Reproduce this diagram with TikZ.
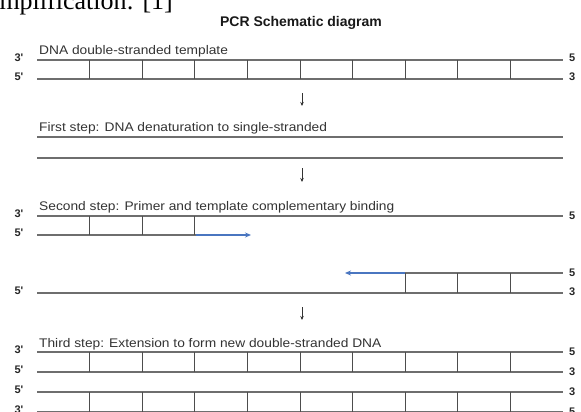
\documentclass[tikz,border=0pt]{standalone}
\usepackage{fontspec}
\setmainfont{Liberation Serif}
\newfontfamily\lblfont[FakeStretch=1.1]{Liberation Sans}
\newfontfamily\hdfont{Liberation Sans}
\usetikzlibrary{arrows.meta}
\definecolor{strand}{HTML}{6E6E6E}
\definecolor{ink}{HTML}{333333}
\definecolor{primer}{HTML}{4A76C0}

\begin{document}
\begin{tikzpicture}[x=1pt,y=-1pt,
  strandline/.style={draw=strand, line width=1.2pt},
  tick/.style={draw=strand!70!black, line width=1pt},
  steptext/.style={anchor=base west, inner sep=0, text=ink, font=\lblfont\fontsize{12.5}{14}\selectfont},
  endlbl/.style={inner sep=0, text=black!85, font=\hdfont\bfseries\fontsize{11}{12}\selectfont},
  flow/.style={draw=ink, line width=0.8pt, -{Stealth[length=4pt,width=3.5pt]}},
  ext/.style={draw=primer, line width=1.2pt, -{Stealth[length=6pt,width=5pt]}}]
\useasboundingbox (0,0) rectangle (581,412);
\clip (0,0) rectangle (581,412);

% caption line above the figure and title
\node[anchor=base east, inner sep=0, font=\fontsize{26}{28}\selectfont] (cap) at (173,9.5) {mplification: [1]};
\node[anchor=base, inner sep=0, text=black!90, font=\hdfont\bfseries\fontsize{14}{16}\selectfont] (title) at (301,27) {PCR Schematic diagram};

% ---------- template ----------
\node[steptext] (t0) at (39,55) {DNA double-stranded template};
\draw[strandline] (37,60) -- (563,60);
\draw[strandline] (37,79) -- (563,79);
\foreach \k in {1,...,9} \draw[tick] ({37+52.6*\k},60) -- ({37+52.6*\k},79);
\node[endlbl] (l0a) at (19,58) {3'};
\node[endlbl] (l0b) at (19,77) {5'};
\node[endlbl, anchor=west] (r0a) at (569,58) {5};
\node[endlbl, anchor=west] (r0b) at (569,77) {3};

\coordinate (f1a) at (302,93);
\coordinate (f1b) at (302,106);
\draw[flow] (f1a) -- (f1b);

% ---------- step 1: denaturation ----------
\node[steptext] (t1) at (39,131) {First step: DNA denaturation to single-stranded};
\draw[strandline] (37,137) -- (563,137);
\draw[strandline] (37,158) -- (563,158);

\coordinate (f2a) at (302,168);
\coordinate (f2b) at (302,182);
\draw[flow] (f2a) -- (f2b);

% ---------- step 2: primer binding ----------
\node[steptext] (t2) at (39,210) {Second step: Primer and template complementary binding};
\draw[strandline] (37,216) -- (563,216);
\draw[strandline] (37,235) -- (196,235);
\foreach \k in {1,2,3} \draw[tick] ({37+52.6*\k},216) -- ({37+52.6*\k},235);
\coordinate (p1s) at (196,235);
\coordinate (p1e) at (251,235);
\draw[ext] (p1s) -- (p1e);
\node[endlbl] (l2a) at (19,214) {3'};
\node[endlbl] (l2b) at (19,233) {5'};
\node[endlbl, anchor=west] (r2a) at (569,216) {5};

\draw[strandline] (405,273) -- (563,273);
\draw[strandline] (37,293) -- (563,293);
\foreach \k in {7,8,9} \draw[tick] ({37+52.6*\k},273) -- ({37+52.6*\k},293);
\coordinate (p2s) at (405,273);
\coordinate (p2e) at (345,273);
\draw[ext] (p2s) -- (p2e);
\node[endlbl] (l2c) at (19,291) {5'};
\node[endlbl, anchor=west] (r2b) at (569,273) {5};
\node[endlbl, anchor=west] (r2c) at (569,292) {3};

\coordinate (f3a) at (302,307);
\coordinate (f3b) at (302,320);
\draw[flow] (f3a) -- (f3b);

% ---------- step 3: extension ----------
\node[steptext] (t3) at (39,347) {Third step: Extension to form new double-stranded DNA};
\foreach \ya/\yb in {352/372, 392/412} {
  \draw[strandline] (37,\ya) -- (563,\ya);
  \draw[strandline] (37,\yb) -- (563,\yb);
  \foreach \k in {1,...,9} \draw[tick] ({37+52.6*\k},\ya) -- ({37+52.6*\k},\yb);
}
\node[endlbl] (l3a) at (19,350) {3'};
\node[endlbl] (l3b) at (19,370) {5'};
\node[endlbl] (l3c) at (19,390) {5'};
\node[endlbl] (l3d) at (19,410) {3'};
\node[endlbl, anchor=west] (r3a) at (569,352) {5};
\node[endlbl, anchor=west] (r3b) at (569,372) {3};
\node[endlbl, anchor=west] (r3c) at (569,392) {3};
\node[endlbl, anchor=west] (r3d) at (569,412) {5};
\end{tikzpicture}
\end{document}
